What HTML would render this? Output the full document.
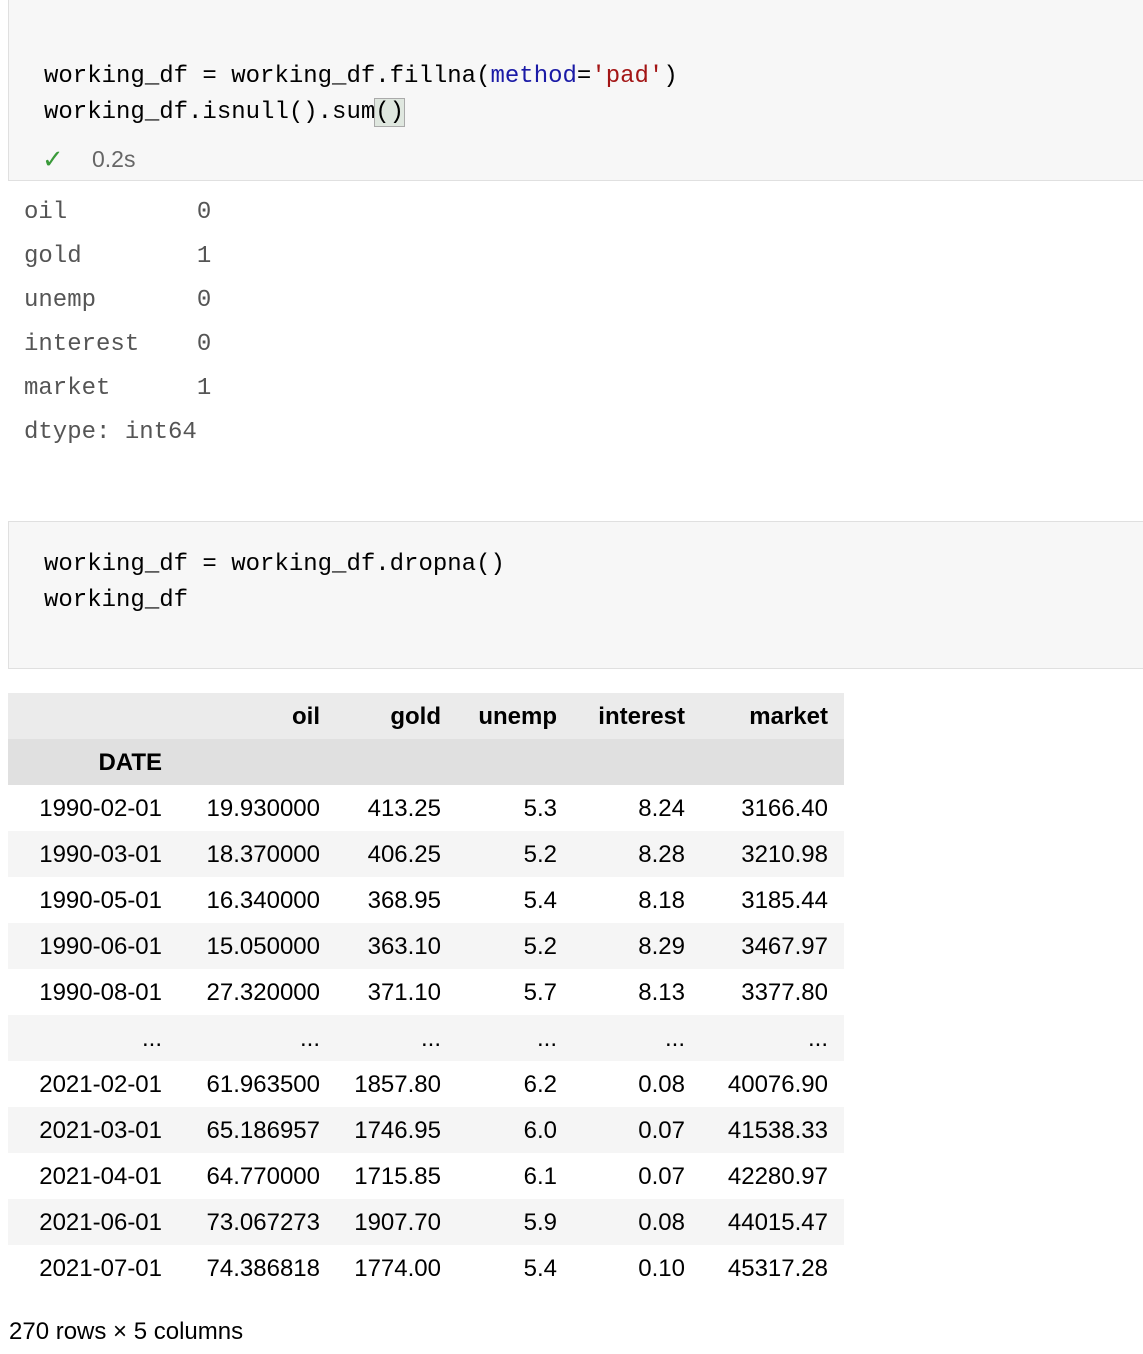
<!DOCTYPE html>
<html><head><meta charset="utf-8"><style>
body{margin:0;width:1143px;height:1354px;background:#fff;position:relative;overflow:hidden;font-family:"Liberation Sans",sans-serif}
.cell{position:absolute;left:8px;width:1140px;background:#f7f7f7;border:1px solid #e0e0e0;box-sizing:border-box}
.code{position:absolute;left:44px;font-family:"Liberation Mono",monospace;font-size:24px;color:#000;white-space:pre;line-height:36px}
.out{position:absolute;left:24px;font-family:"Liberation Mono",monospace;font-size:24px;color:#555;white-space:pre}
.row{position:absolute;left:8px;width:836px;height:46px}
.c{position:absolute;top:1px;line-height:46px;font-size:24px;color:#000;text-align:right}
.h{font-weight:bold}
</style></head><body>
<div class="cell" style="top:-2px;height:183px"></div>
<div class="code" style="top:59px">working_df = working_df.fillna(<span style="color:#1a1aa6">method</span>=<span style="color:#a31515">'pad'</span>)
working_df.isnull().sum<span style="background:#dfe7df;outline:1px solid #aaa">()</span></div>
<div style="position:absolute;left:42px;top:144px;font-size:26px;color:#3a9a3a">✓</div>
<div style="position:absolute;left:92px;top:146px;font-size:23px;color:#666">0.2s</div>
<div class="out" style="top:191px;line-height:44px">oil         0
gold        1
unemp       0
interest    0
market      1
dtype: int64</div>
<div class="cell" style="top:521px;height:148px"></div>
<div class="code" style="top:547px">working_df = working_df.dropna()
working_df</div>
<div id="tbl"></div>
<div style="position:absolute;left:9px;top:1318px;font-size:24px;color:#000">270 rows × 5 columns</div>
<script>
const dates=["1990-02-01","1990-03-01","1990-05-01","1990-06-01","1990-08-01","...","2021-02-01","2021-03-01","2021-04-01","2021-06-01","2021-07-01"];
const oil=["19.930000","18.370000","16.340000","15.050000","27.320000","...","61.963500","65.186957","64.770000","73.067273","74.386818"];
const gold=["413.25","406.25","368.95","363.10","371.10","...","1857.80","1746.95","1715.85","1907.70","1774.00"];
const unemp=["5.3","5.2","5.4","5.2","5.7","...","6.2","6.0","6.1","5.9","5.4"];
const interest=["8.24","8.28","8.18","8.29","8.13","...","0.08","0.07","0.07","0.08","0.10"];
const market=["3166.40","3210.98","3185.44","3467.97","3377.80","...","40076.90","41538.33","42280.97","44015.47","45317.28"];
const headers=["","oil","gold","unemp","interest","market"];
const rights=[162,320,441,557,685,828];
const t=document.getElementById('tbl');
function mk(top,bg,vals,bold,name){
  const r=document.createElement('div');r.className='row';r.style.top=top+'px';r.style.background=bg;
  
  
  vals.forEach((v,i)=>{const c=document.createElement('div');c.className='c';
    if(bold)c.classList.add('h');
    c.style.right=(844-rights[i])+'px';c.textContent=v;
    
    
    r.appendChild(c);});
  t.appendChild(r);
}
mk(693,'#ebebeb',headers,true,'header-row');
mk(739,'#e0e0e0',["DATE","","","","",""],true,'index-name-row');
dates.forEach((d,i)=>{mk(785+i*46,i%2?'#f5f5f5':'#fff',[d,oil[i],gold[i],unemp[i],interest[i],market[i]],false,'data-row');});
</script>
</body></html>
